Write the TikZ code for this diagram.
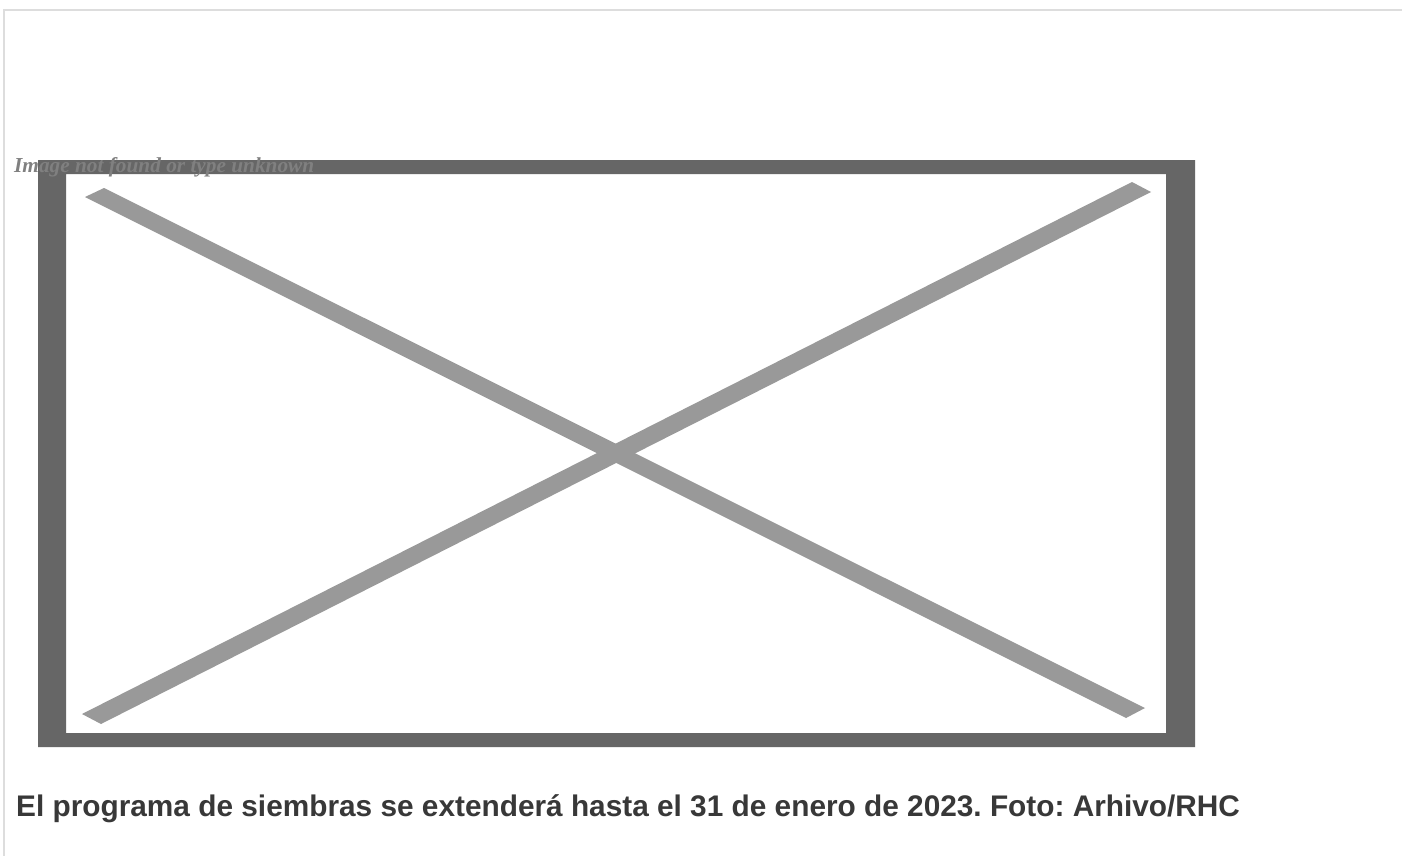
\documentclass[tikz,border=0pt]{standalone}
\usepackage{fontspec}
\setmainfont{Liberation Serif}
\newfontfamily\capfont{Liberation Sans}
\definecolor{framegray}{HTML}{666666}
\definecolor{crossgray}{HTML}{999999}
\definecolor{edgegray}{HTML}{DDDDDD}
\definecolor{captext}{HTML}{383838}
\definecolor{alttext}{HTML}{808080}
\frenchspacing
\begin{document}
\begin{tikzpicture}[x=1pt, y=-1pt,
    alt/.style={font=\fontsize{21.3}{22}\selectfont\bfseries\itshape, text=alttext, inner sep=0pt, anchor=base west},
    caption/.style={font=\capfont\fontsize{29.8}{32}\selectfont\bfseries, text=captext, inner sep=0pt, anchor=base west}]
        \useasboundingbox (0,0) rectangle (1402,856);
        \fill[white] (0,0) rectangle (1402,856);
        \draw[edgegray, line width=2pt] (4,856) -- (4,10) -- (1402,10);

        \fill[framegray, even odd rule] (38,160) rectangle (1195,747) (66,174) rectangle (1166,733);

        \fill[crossgray] (85,197) -- (104,188) -- (1145,708) -- (1126,718) -- cycle;
        \fill[crossgray] (82,714) -- (101,724) -- (1151,192) -- (1132,182) -- cycle;

        \node[alt] (alt) at (14,172) {Image not found or type unknown};
        \node[caption] (caption) at (16,816) {El programa de siembras se extenderá hasta el 31 de enero de 2023. Foto: Arhivo/RHC};
    \end{tikzpicture}
\end{document}
